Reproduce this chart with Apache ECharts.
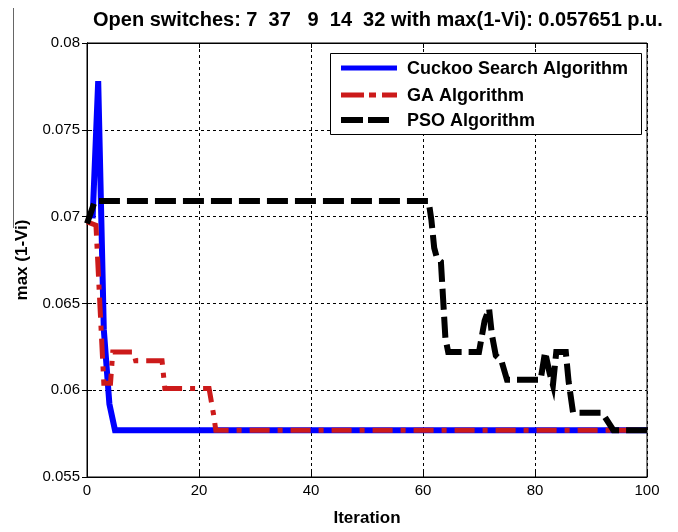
<!DOCTYPE html>
<html>
<head>
<meta charset="utf-8">
<title>Convergence of max(1-Vi)</title>
<script src="https://cdn.jsdelivr.net/npm/echarts@6/dist/echarts.min.js"></script>
<style>
  html, body { margin: 0; padding: 0; background: #fff; }
  #chart { width: 678px; height: 532px; }
</style>
</head>
<body>
<div id="chart"></div>
<script>
// Convergence curves: [iteration, max(1-Vi)] points for each algorithm
const cuckooPoints = [
  [1, 0.0699], [2, 0.0778], [3, 0.0635], [4, 0.0592], [5, 0.0577], [100, 0.0577]
];
const gaPoints = [
  [0, 0.0697], [1.6, 0.0695], [3, 0.0604], [4.2, 0.0604], [4.6, 0.0622],
  [8.3, 0.0622], [8.7, 0.0617], [13.4, 0.0617], [13.9, 0.0601], [21.8, 0.0601],
  [22.6, 0.0586], [23, 0.0577], [100, 0.0577]
];
const psoPoints = [
  [0, 0.0696], [1.4, 0.0709], [61, 0.0709], [61.5, 0.0698], [62, 0.0682],
  [62.5, 0.0676], [63.2, 0.0674], [63.6, 0.0652], [64, 0.0630], [64.5, 0.0622],
  [70, 0.0622], [71, 0.0640], [71.8, 0.0647], [72.3, 0.0632], [73, 0.0620],
  [74, 0.0617], [75, 0.0606], [81, 0.0606], [81.8, 0.0622], [82.6, 0.0610],
  [83.2, 0.0603], [83.8, 0.0622], [85.5, 0.0622], [86, 0.0605], [86.8, 0.0587],
  [92, 0.0587], [94, 0.0577], [100, 0.0577]
];
const seriesNames = ['Cuckoo Search Algorithm', 'GA Algorithm', 'PSO Algorithm'];
const titleText = 'Open switches: 7  37   9  14  32 with max(1-Vi): 0.057651 p.u.';
const xTicks = { min: 0, max: 100, step: 20 };
const yTicks = { min: 0.055, max: 0.08, step: 0.005 };

const FONT = 'Liberation Sans, Arial, sans-serif';
const chart = echarts.init(document.getElementById('chart'), null, { renderer: 'canvas' });

const gridLine = { show: true, lineStyle: { color: '#000', width: 1, type: [3, 3] } };
const tickIn = { show: true, inside: true, length: 5, lineStyle: { color: '#000', width: 1 } };
const axisLine = { show: true, lineStyle: { color: '#000', width: 1 } };

// Line styles shared by the series and the legend keys
const styles = [
  { color: '#0000ff', width: 6, dash: null, keyWidth: 5, keyDash: null, keyEnd: 397 },
  { color: '#cc1a1a', width: 5, dash: [20, 8, 5, 8], keyWidth: 5, keyDash: [23, 5, 7, 6], keyEnd: 397 },
  { color: '#000000', width: 6, dash: [21, 7], keyWidth: 6, keyDash: [22, 5], keyEnd: 389 }
];

// Legend box drawn as graphics so the keys keep their dash patterns
const legendBox = { x: 330.5, y: 53.5, w: 311, h: 81 };
const legendRows = [68, 95, 120];
const legendGraphics = [{
  type: 'rect', z: 100,
  shape: { x: legendBox.x, y: legendBox.y, width: legendBox.w, height: legendBox.h },
  style: { fill: '#fff', stroke: '#000', lineWidth: 1 }
}];
seriesNames.forEach((name, i) => {
  const s = styles[i];
  legendGraphics.push({
    type: 'line', z: 101,
    shape: { x1: 341, y1: legendRows[i], x2: s.keyEnd, y2: legendRows[i] },
    style: { stroke: s.color, lineWidth: s.keyWidth, lineDash: s.keyDash || null }
  });
  legendGraphics.push({
    type: 'text', z: 101,
    x: 407, y: legendRows[i] + 1,
    style: {
      text: name, fill: '#000', font: 'bold 18px ' + FONT,
      textAlign: 'left', textVerticalAlign: 'middle'
    }
  });
});

chart.setOption({
  animation: false,
  backgroundColor: '#fff',
  title: {
    text: titleText,
    left: 88, top: 5,
    textStyle: { fontFamily: FONT, fontWeight: 'bold', fontSize: 20, color: '#000' }
  },
  grid: { left: 87, right: 31, top: 43, bottom: 55, show: true, borderColor: '#000', borderWidth: 1 },
  xAxis: [{
    type: 'value', min: xTicks.min, max: xTicks.max, interval: xTicks.step,
    name: 'Iteration', nameLocation: 'middle', nameGap: 33,
    nameTextStyle: { fontFamily: FONT, fontWeight: 'bold', fontSize: 17, color: '#000' },
    axisLine: axisLine, axisTick: tickIn, splitLine: gridLine,
    axisLabel: { fontFamily: FONT, fontSize: 15, color: '#000', margin: 6 }
  }, {
    type: 'value', position: 'top', min: xTicks.min, max: xTicks.max, interval: xTicks.step,
    axisLine: axisLine, axisTick: tickIn, splitLine: { show: false }, axisLabel: { show: false }
  }],
  yAxis: [{
    type: 'value', min: yTicks.min, max: yTicks.max, interval: yTicks.step,
    name: 'max (1-Vi)', nameLocation: 'middle', nameGap: 56, nameRotate: 90,
    nameTextStyle: { fontFamily: FONT, fontWeight: 'bold', fontSize: 17, color: '#000' },
    axisLine: axisLine, axisTick: tickIn, splitLine: gridLine,
    axisLabel: {
      fontFamily: FONT, fontSize: 15, color: '#000', margin: 7,
      formatter: v => String(+v.toFixed(3))
    }
  }, {
    type: 'value', position: 'right', min: yTicks.min, max: yTicks.max, interval: yTicks.step,
    axisLine: axisLine, axisTick: tickIn, splitLine: { show: false }, axisLabel: { show: false }
  }],
  series: [cuckooPoints, gaPoints, psoPoints].map((pts, i) => ({
    name: seriesNames[i], type: 'line', data: pts, symbol: 'none', z: 2 + i,
    color: styles[i].color,
    lineStyle: {
      color: styles[i].color, width: styles[i].width,
      type: styles[i].dash || 'solid', join: 'miter'
    }
  })),
  graphic: [{
    type: 'line', z: 1,
    shape: { x1: 13.5, y1: 8, x2: 13.5, y2: 228 },
    style: { stroke: '#666', lineWidth: 1 }
  }].concat(legendGraphics)
});
</script>
</body>
</html>
